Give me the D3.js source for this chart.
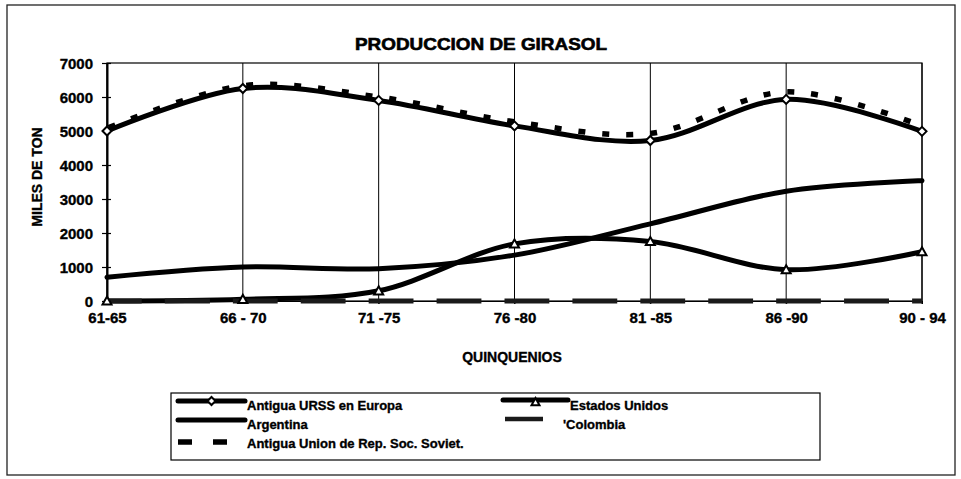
<!DOCTYPE html>
<html><head><meta charset="utf-8">
<script src="https://cdn.jsdelivr.net/npm/d3@7"></script>
<style>
html,body{margin:0;padding:0;background:#fff;}
svg{display:block;font-family:"Liberation Sans",Arial,sans-serif;}
svg text{stroke:#000;stroke-width:0.35px;fill:#000;}
</style></head>
<body><svg id="c" width="961" height="479"></svg>
<script>
const categories = ["61-65","66 - 70","71 -75","76 -80","81 -85","86 -90","90 - 94"];
const urssEuropa = [5000, 6250, 5900, 5150, 4720, 5930, 4990];
const estadosUnidos = [0, 50, 300, 1680, 1750, 920, 1450];
const argentina = [700, 1000, 950, 1350, 2270, 3230, 3540];
const colombia = [0, 0, 0, 0, 0, 0, 0];
const unionSoviet = [5080, 6330, 6000, 5270, 4930, 6150, 5150];
const yTicks = [0,1000,2000,3000,4000,5000,6000,7000];
const titleText = "PRODUCCION DE GIRASOL";
const yTitle = "MILES DE TON";
const xTitle = "QUINQUENIOS";

const svg = d3.select("#c");
const L = 107, R = 922, T = 63, B = 301;
const x = d3.scalePoint().domain(categories).range([L, R]);
const y = d3.scaleLinear().domain([0, 7000]).range([B, T]);
const step = x.step();

// outer border
svg.append("rect").attr("x",7).attr("y",5).attr("width",948).attr("height",470)
  .attr("fill","none").attr("stroke","#222").attr("stroke-width",1.3);

// title
svg.append("text").attr("x",481).attr("y",50).attr("text-anchor","middle")
  .attr("font-weight","bold").attr("font-size",16.5).attr("textLength",252)
  .attr("lengthAdjust","spacingAndGlyphs").style("stroke-width","0.6px").text(titleText);

// plot border
svg.append("rect").attr("x",L).attr("y",T).attr("width",R-L).attr("height",B-T)
  .attr("fill","none").attr("stroke","#000").attr("stroke-width",1.2);

// vertical gridlines
svg.append("g").selectAll("line").data(categories).join("line")
  .attr("x1",d=>x(d)).attr("x2",d=>x(d)).attr("y1",T).attr("y2",B+3)
  .attr("stroke","#000").attr("stroke-width",1);

// y axis
const ya = svg.append("g").attr("transform",`translate(${L},0)`)
  .call(d3.axisLeft(y).tickValues(yTicks).tickFormat(d3.format("d")).tickSizeInner(5).tickSizeOuter(0).tickPadding(9));
ya.select(".domain").attr("stroke","#000").attr("stroke-width",2);
ya.selectAll(".tick line").attr("stroke","#000").attr("stroke-width",1.2).attr("x2",4).attr("x1",-5);
ya.selectAll(".tick text").attr("font-size",15).attr("font-weight","bold").attr("font-family","Liberation Sans, Arial, sans-serif").attr("dy","0.35em");

// x axis
const xa = svg.append("g").attr("transform",`translate(0,${B})`)
  .call(d3.axisBottom(x).tickSizeInner(3).tickSizeOuter(0).tickPadding(8));
xa.select(".domain").attr("stroke","#000").attr("stroke-width",1.2);
xa.selectAll(".tick line").attr("stroke","#000");
xa.selectAll(".tick text").attr("font-size",15).attr("font-weight","bold").attr("font-family","Liberation Sans, Arial, sans-serif");

// axis titles
svg.append("text").attr("transform","translate(42,177) rotate(-90)").attr("text-anchor","middle")
  .attr("font-weight","bold").attr("font-size",14).text(yTitle);
svg.append("text").attr("x",512).attr("y",362).attr("text-anchor","middle")
  .attr("font-weight","bold").attr("font-size",14).text(xTitle);

const line = d3.line().x((d,i)=>x(categories[i])).y(d=>y(d)).curve(d3.curveCatmullRom.alpha(0));

const plot = svg.append("g");
plot.append("path").datum(argentina).attr("d",line).attr("fill","none").attr("stroke","#000").attr("stroke-width",5).attr("stroke-linecap","round");
plot.append("path").datum(estadosUnidos).attr("d",line).attr("fill","none").attr("stroke","#000").attr("stroke-width",5).attr("stroke-linecap","round");
plot.append("path").datum(colombia).attr("d",line).attr("fill","none").attr("stroke","#1a1a1a").attr("stroke-width",5)
  .attr("stroke-dasharray",`${step*0.33},${step*0.17}`).attr("stroke-dashoffset",10);
plot.append("path").datum(urssEuropa).attr("d",line).attr("fill","none").attr("stroke","#000").attr("stroke-width",5).attr("stroke-linecap","round");
plot.append("path").datum(unionSoviet).attr("d",line).attr("fill","none").attr("stroke","#000").attr("stroke-width",5.5)
  .attr("stroke-dasharray","7,17").attr("stroke-dashoffset",-2);

// markers
const diamond = (cx,cy,s)=>`M${cx},${cy-s}L${cx+s},${cy}L${cx},${cy+s}L${cx-s},${cy}Z`;
const tri = (cx,cy,s)=>`M${cx},${cy-s}L${cx+s},${cy+s*0.8}L${cx-s},${cy+s*0.8}Z`;
plot.append("g").selectAll("path").data(urssEuropa).join("path")
  .attr("d",(d,i)=>diamond(x(categories[i]),y(d),4.5)).attr("fill","#fff").attr("stroke","#000").attr("stroke-width",2);
plot.append("g").selectAll("path").data(estadosUnidos).join("path")
  .attr("d",(d,i)=>tri(x(categories[i]),y(d),4.5)).attr("fill","#fff").attr("stroke","#000").attr("stroke-width",2);

// legend
const lg = svg.append("g");
lg.append("rect").attr("x",171).attr("y",393).attr("width",649).attr("height",67)
  .attr("fill","#fff").attr("stroke","#000").attr("stroke-width",1.2);
const rows = [
  {name:"Antigua URSS en Europa", cx:178, cw:67, tx:247, by:410, ly:401, kind:"diamond"},
  {name:"Argentina", cx:178, cw:67, tx:247, by:429, ly:420, kind:"solid"},
  {name:"Antigua Union de Rep. Soc. Soviet.", cx:178, cw:50, tx:247, by:448, ly:442, kind:"dash"},
  {name:"Estados Unidos", cx:503, cw:65, tx:570, by:410, ly:400, kind:"tri"},
  {name:"'Colombia", cx:505, cw:38, tx:563, by:429, ly:419, kind:"dot"}
];
rows.forEach(r=>{
  const l = lg.append("line").attr("x1",r.cx).attr("x2",r.cx+r.cw).attr("y1",r.ly).attr("y2",r.ly).attr("stroke","#000");
  if(r.kind==="dash"){ l.attr("stroke-width",5.5).attr("stroke-dasharray","14,21"); }
  else if(r.kind==="dot"){ l.attr("stroke-width",4.5).attr("stroke","#1a1a1a"); }
  else { l.attr("stroke-width",5).attr("stroke-linecap","round"); }
  const mx = r.cx + r.cw/2;
  if(r.kind==="diamond") lg.append("path").attr("d",diamond(mx,r.ly,4)).attr("fill","#fff").attr("stroke","#000").attr("stroke-width",2);
  if(r.kind==="tri") lg.append("path").attr("d",tri(mx,r.ly+2,4)).attr("fill","#fff").attr("stroke","#000").attr("stroke-width",2);
  lg.append("text").attr("x",r.tx).attr("y",r.by).attr("font-size",13).attr("font-weight","bold").text(r.name);
});
</script></body></html>
